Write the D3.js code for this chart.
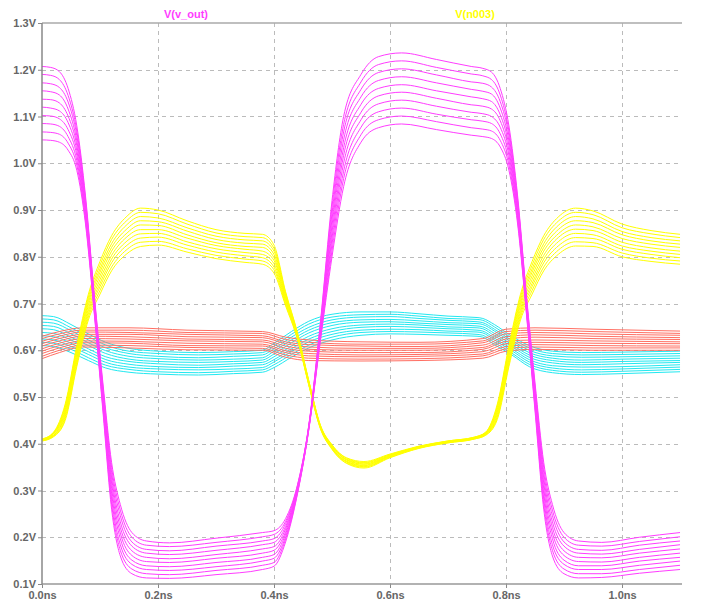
<!DOCTYPE html>
<html>
<head>
<meta charset="utf-8">
<title>V(v_out) / V(n003)</title>
<script src="https://cdn.jsdelivr.net/npm/d3@7/dist/d3.min.js"></script>
<style>
  body { margin: 0; background: #fff; }
  .tick text { font-family: "Liberation Sans", Arial, sans-serif; font-size: 11px; font-weight: bold; fill: #666; }
</style>
</head>
<body>
<svg id="chart" width="709" height="604"></svg>
<script>
// axis ticks
const xTicks = [0, 0.2, 0.4, 0.6, 0.8, 1.0]
const yTicks = [0.1, 0.2, 0.3, 0.4, 0.5, 0.6, 0.7, 0.8, 0.9, 1.0, 1.1, 1.2, 1.3]

// V(v_out) - magenta, 10 sweep runs per time sample
const tOut = [0, 0.015, 0.03, 0.045, 0.06, 0.075, 0.09, 0.105, 0.12, 0.135, 0.155, 0.18, 0.22, 0.30, 0.38, 0.40, 0.42, 0.44, 0.46, 0.48,
  0.50, 0.52, 0.55, 0.58, 0.62, 0.68, 0.74, 0.76, 0.775, 0.79, 0.805, 0.82, 0.835, 0.85, 0.865, 0.88, 0.90, 0.925, 0.965, 1.03, 1.10]
const vOut = [
  [1.207, 1.190, 1.172, 1.155, 1.137, 1.120, 1.102, 1.085, 1.067, 1.050],
  [1.205, 1.188, 1.170, 1.153, 1.136, 1.118, 1.101, 1.084, 1.066, 1.049],
  [1.196, 1.179, 1.162, 1.146, 1.129, 1.112, 1.095, 1.079, 1.062, 1.045],
  [1.160, 1.145, 1.131, 1.116, 1.101, 1.087, 1.072, 1.057, 1.043, 1.028],
  [1.080, 1.069, 1.059, 1.048, 1.038, 1.027, 1.017, 1.006, 0.996, 0.985],
  [0.930, 0.923, 0.917, 0.910, 0.903, 0.897, 0.890, 0.883, 0.877, 0.870],
  [0.720, 0.716, 0.711, 0.707, 0.702, 0.698, 0.693, 0.689, 0.684, 0.680],
  [0.530, 0.523, 0.517, 0.510, 0.503, 0.497, 0.490, 0.483, 0.477, 0.470],
  [0.360, 0.349, 0.338, 0.327, 0.316, 0.304, 0.293, 0.282, 0.271, 0.260],
  [0.270, 0.258, 0.246, 0.233, 0.221, 0.209, 0.197, 0.184, 0.172, 0.160],
  [0.210, 0.200, 0.190, 0.181, 0.171, 0.161, 0.151, 0.142, 0.132, 0.122],
  [0.192, 0.183, 0.174, 0.166, 0.157, 0.148, 0.139, 0.131, 0.122, 0.113],
  [0.188, 0.180, 0.171, 0.163, 0.154, 0.146, 0.137, 0.129, 0.120, 0.112],
  [0.198, 0.189, 0.181, 0.172, 0.163, 0.155, 0.146, 0.137, 0.129, 0.120],
  [0.210, 0.201, 0.192, 0.184, 0.175, 0.166, 0.157, 0.149, 0.140, 0.131],
  [0.214, 0.206, 0.197, 0.189, 0.180, 0.172, 0.163, 0.155, 0.146, 0.138],
  [0.240, 0.234, 0.229, 0.223, 0.218, 0.212, 0.207, 0.201, 0.196, 0.190],
  [0.310, 0.308, 0.306, 0.303, 0.301, 0.299, 0.297, 0.294, 0.292, 0.290],
  [0.440, 0.439, 0.438, 0.437, 0.436, 0.434, 0.433, 0.432, 0.431, 0.430],
  [0.660, 0.656, 0.651, 0.647, 0.642, 0.638, 0.633, 0.629, 0.624, 0.620],
  [0.920, 0.907, 0.893, 0.880, 0.867, 0.853, 0.840, 0.827, 0.813, 0.800],
  [1.100, 1.083, 1.067, 1.050, 1.033, 1.017, 1.000, 0.983, 0.967, 0.950],
  [1.190, 1.174, 1.158, 1.142, 1.126, 1.109, 1.093, 1.077, 1.061, 1.045],
  [1.228, 1.211, 1.194, 1.177, 1.160, 1.144, 1.127, 1.110, 1.093, 1.076],
  [1.236, 1.219, 1.202, 1.185, 1.168, 1.152, 1.135, 1.118, 1.101, 1.084],
  [1.222, 1.205, 1.189, 1.172, 1.155, 1.139, 1.122, 1.105, 1.089, 1.072],
  [1.207, 1.191, 1.174, 1.158, 1.142, 1.125, 1.109, 1.093, 1.076, 1.060],
  [1.203, 1.187, 1.171, 1.154, 1.138, 1.122, 1.106, 1.090, 1.073, 1.057],
  [1.195, 1.179, 1.163, 1.148, 1.132, 1.116, 1.100, 1.085, 1.069, 1.053],
  [1.160, 1.146, 1.132, 1.118, 1.104, 1.091, 1.077, 1.063, 1.049, 1.035],
  [1.080, 1.069, 1.059, 1.048, 1.038, 1.027, 1.017, 1.006, 0.996, 0.985],
  [0.930, 0.923, 0.917, 0.910, 0.903, 0.897, 0.890, 0.883, 0.877, 0.870],
  [0.720, 0.716, 0.711, 0.707, 0.702, 0.698, 0.693, 0.689, 0.684, 0.680],
  [0.530, 0.523, 0.517, 0.510, 0.503, 0.497, 0.490, 0.483, 0.477, 0.470],
  [0.360, 0.349, 0.338, 0.327, 0.316, 0.304, 0.293, 0.282, 0.271, 0.260],
  [0.270, 0.258, 0.246, 0.233, 0.221, 0.209, 0.197, 0.184, 0.172, 0.160],
  [0.210, 0.200, 0.190, 0.181, 0.171, 0.161, 0.151, 0.142, 0.132, 0.122],
  [0.192, 0.183, 0.174, 0.166, 0.157, 0.148, 0.139, 0.131, 0.122, 0.113],
  [0.189, 0.181, 0.172, 0.164, 0.156, 0.147, 0.139, 0.131, 0.122, 0.114],
  [0.200, 0.191, 0.183, 0.174, 0.166, 0.157, 0.149, 0.140, 0.131, 0.123],
  [0.210, 0.201, 0.192, 0.184, 0.175, 0.166, 0.157, 0.149, 0.140, 0.131]
]

// V(n003) - yellow
const tN3 = [0, 0.02, 0.04, 0.06, 0.08, 0.10, 0.12, 0.145, 0.17, 0.20, 0.25, 0.30, 0.35, 0.38, 0.40, 0.42, 0.44, 0.46, 0.48,
  0.50, 0.525, 0.555, 0.60, 0.65, 0.70, 0.745, 0.765, 0.785, 0.805, 0.825, 0.845, 0.865, 0.89, 0.92, 0.95, 1.00, 1.05, 1.10]
const vN3 = [
  [0.410, 0.410, 0.409, 0.409, 0.408, 0.408, 0.407, 0.407, 0.406, 0.406],
  [0.425, 0.424, 0.423, 0.422, 0.421, 0.419, 0.418, 0.417, 0.416, 0.415],
  [0.485, 0.481, 0.477, 0.473, 0.469, 0.466, 0.462, 0.458, 0.454, 0.450],
  [0.610, 0.605, 0.600, 0.595, 0.590, 0.585, 0.580, 0.575, 0.570, 0.565],
  [0.720, 0.714, 0.708, 0.702, 0.696, 0.689, 0.683, 0.677, 0.671, 0.665],
  [0.790, 0.782, 0.774, 0.767, 0.759, 0.751, 0.743, 0.736, 0.728, 0.720],
  [0.845, 0.837, 0.828, 0.820, 0.812, 0.803, 0.795, 0.787, 0.778, 0.770],
  [0.885, 0.876, 0.867, 0.858, 0.849, 0.841, 0.832, 0.823, 0.814, 0.805],
  [0.904, 0.895, 0.886, 0.877, 0.868, 0.858, 0.849, 0.840, 0.831, 0.822],
  [0.900, 0.892, 0.883, 0.875, 0.867, 0.858, 0.850, 0.842, 0.833, 0.825],
  [0.877, 0.870, 0.862, 0.855, 0.847, 0.840, 0.832, 0.825, 0.817, 0.810],
  [0.858, 0.851, 0.844, 0.837, 0.830, 0.824, 0.817, 0.810, 0.803, 0.796],
  [0.850, 0.843, 0.836, 0.829, 0.822, 0.816, 0.809, 0.802, 0.795, 0.788],
  [0.848, 0.841, 0.834, 0.827, 0.820, 0.812, 0.805, 0.798, 0.791, 0.784],
  [0.825, 0.818, 0.812, 0.805, 0.798, 0.792, 0.785, 0.778, 0.772, 0.765],
  [0.725, 0.722, 0.718, 0.715, 0.712, 0.708, 0.705, 0.702, 0.698, 0.695],
  [0.640, 0.638, 0.637, 0.635, 0.633, 0.632, 0.630, 0.628, 0.627, 0.625],
  [0.535, 0.534, 0.533, 0.532, 0.531, 0.529, 0.528, 0.527, 0.526, 0.525],
  [0.440, 0.439, 0.438, 0.437, 0.436, 0.436, 0.435, 0.434, 0.433, 0.432],
  [0.398, 0.397, 0.396, 0.395, 0.394, 0.392, 0.391, 0.390, 0.389, 0.388],
  [0.370, 0.369, 0.367, 0.366, 0.365, 0.363, 0.362, 0.361, 0.359, 0.358],
  [0.362, 0.360, 0.359, 0.357, 0.356, 0.354, 0.353, 0.351, 0.350, 0.348],
  [0.378, 0.377, 0.376, 0.375, 0.374, 0.374, 0.373, 0.372, 0.371, 0.370],
  [0.395, 0.394, 0.394, 0.393, 0.393, 0.392, 0.392, 0.391, 0.391, 0.390],
  [0.406, 0.406, 0.405, 0.405, 0.404, 0.404, 0.403, 0.403, 0.402, 0.402],
  [0.414, 0.414, 0.413, 0.413, 0.412, 0.412, 0.411, 0.411, 0.410, 0.410],
  [0.425, 0.424, 0.423, 0.423, 0.422, 0.421, 0.420, 0.420, 0.419, 0.418],
  [0.485, 0.481, 0.478, 0.474, 0.470, 0.467, 0.463, 0.459, 0.456, 0.452],
  [0.610, 0.605, 0.600, 0.595, 0.590, 0.585, 0.580, 0.575, 0.570, 0.565],
  [0.720, 0.714, 0.708, 0.702, 0.696, 0.689, 0.683, 0.677, 0.671, 0.665],
  [0.790, 0.782, 0.774, 0.767, 0.759, 0.751, 0.743, 0.736, 0.728, 0.720],
  [0.845, 0.837, 0.828, 0.820, 0.812, 0.803, 0.795, 0.787, 0.778, 0.770],
  [0.885, 0.876, 0.867, 0.858, 0.849, 0.841, 0.832, 0.823, 0.814, 0.805],
  [0.904, 0.895, 0.886, 0.877, 0.868, 0.859, 0.850, 0.841, 0.832, 0.823],
  [0.898, 0.890, 0.881, 0.873, 0.864, 0.856, 0.847, 0.839, 0.830, 0.822],
  [0.870, 0.862, 0.854, 0.847, 0.839, 0.831, 0.823, 0.816, 0.808, 0.800],
  [0.856, 0.849, 0.841, 0.834, 0.827, 0.819, 0.812, 0.805, 0.797, 0.790],
  [0.848, 0.841, 0.834, 0.827, 0.820, 0.812, 0.805, 0.798, 0.791, 0.784]
]

// cyan trace
const tCyan = [0, 0.02, 0.05, 0.08, 0.11, 0.15, 0.20, 0.27, 0.33, 0.38, 0.40, 0.43, 0.46, 0.50, 0.55, 0.60, 0.65, 0.70,
  0.75, 0.76, 0.78, 0.81, 0.84, 0.88, 0.93, 1.00, 1.10]
const vCyan = [
  [0.674, 0.667, 0.660, 0.653, 0.646, 0.638, 0.631, 0.624, 0.617, 0.610],
  [0.672, 0.665, 0.658, 0.651, 0.644, 0.636, 0.629, 0.622, 0.615, 0.608],
  [0.655, 0.648, 0.642, 0.635, 0.628, 0.622, 0.615, 0.608, 0.602, 0.595],
  [0.635, 0.629, 0.622, 0.616, 0.610, 0.603, 0.597, 0.591, 0.584, 0.578],
  [0.617, 0.611, 0.605, 0.599, 0.593, 0.586, 0.580, 0.574, 0.568, 0.562],
  [0.604, 0.598, 0.593, 0.587, 0.581, 0.576, 0.570, 0.564, 0.559, 0.553],
  [0.598, 0.593, 0.587, 0.582, 0.576, 0.571, 0.565, 0.560, 0.554, 0.549],
  [0.595, 0.590, 0.584, 0.579, 0.574, 0.568, 0.563, 0.558, 0.552, 0.547],
  [0.597, 0.592, 0.587, 0.581, 0.576, 0.571, 0.566, 0.560, 0.555, 0.550],
  [0.600, 0.595, 0.590, 0.584, 0.579, 0.574, 0.569, 0.563, 0.558, 0.553],
  [0.615, 0.609, 0.603, 0.598, 0.592, 0.586, 0.580, 0.575, 0.569, 0.563],
  [0.640, 0.634, 0.628, 0.622, 0.616, 0.609, 0.603, 0.597, 0.591, 0.585],
  [0.662, 0.656, 0.649, 0.643, 0.637, 0.630, 0.624, 0.618, 0.611, 0.605],
  [0.677, 0.671, 0.665, 0.659, 0.653, 0.646, 0.640, 0.634, 0.628, 0.622],
  [0.682, 0.676, 0.671, 0.665, 0.660, 0.654, 0.649, 0.643, 0.638, 0.632],
  [0.682, 0.677, 0.672, 0.666, 0.661, 0.656, 0.651, 0.645, 0.640, 0.635],
  [0.678, 0.673, 0.668, 0.663, 0.658, 0.654, 0.649, 0.644, 0.639, 0.634],
  [0.673, 0.668, 0.664, 0.659, 0.655, 0.650, 0.646, 0.641, 0.637, 0.632],
  [0.670, 0.666, 0.661, 0.657, 0.652, 0.648, 0.643, 0.639, 0.634, 0.630],
  [0.668, 0.664, 0.659, 0.655, 0.650, 0.646, 0.641, 0.637, 0.632, 0.628],
  [0.655, 0.650, 0.645, 0.641, 0.636, 0.631, 0.626, 0.622, 0.617, 0.612],
  [0.630, 0.626, 0.621, 0.617, 0.612, 0.608, 0.603, 0.599, 0.594, 0.590],
  [0.610, 0.605, 0.600, 0.595, 0.590, 0.585, 0.580, 0.575, 0.570, 0.565],
  [0.598, 0.593, 0.588, 0.583, 0.578, 0.573, 0.567, 0.562, 0.557, 0.552],
  [0.595, 0.590, 0.585, 0.579, 0.574, 0.569, 0.564, 0.558, 0.553, 0.548],
  [0.596, 0.591, 0.586, 0.581, 0.576, 0.571, 0.565, 0.560, 0.555, 0.550],
  [0.598, 0.593, 0.588, 0.583, 0.578, 0.574, 0.569, 0.564, 0.559, 0.554]
]

// red trace
const tRed = [0, 0.03, 0.07, 0.15, 0.25, 0.38, 0.42, 0.46, 0.55, 0.65, 0.76, 0.80, 0.85, 0.95, 1.10]
const vRed = [
  [0.630, 0.625, 0.619, 0.614, 0.609, 0.603, 0.598, 0.593, 0.587, 0.582],
  [0.640, 0.635, 0.630, 0.625, 0.620, 0.615, 0.610, 0.605, 0.600, 0.595],
  [0.648, 0.643, 0.639, 0.634, 0.630, 0.625, 0.620, 0.616, 0.611, 0.607],
  [0.648, 0.643, 0.638, 0.634, 0.629, 0.624, 0.619, 0.615, 0.610, 0.605],
  [0.643, 0.638, 0.634, 0.629, 0.624, 0.620, 0.615, 0.610, 0.606, 0.601],
  [0.640, 0.636, 0.631, 0.627, 0.622, 0.618, 0.613, 0.609, 0.604, 0.600],
  [0.628, 0.623, 0.618, 0.614, 0.609, 0.604, 0.599, 0.595, 0.590, 0.585],
  [0.622, 0.617, 0.612, 0.607, 0.602, 0.598, 0.593, 0.588, 0.583, 0.578],
  [0.618, 0.613, 0.609, 0.604, 0.600, 0.595, 0.590, 0.586, 0.581, 0.577],
  [0.617, 0.613, 0.608, 0.604, 0.600, 0.595, 0.591, 0.587, 0.582, 0.578],
  [0.625, 0.620, 0.616, 0.611, 0.606, 0.602, 0.597, 0.592, 0.588, 0.583],
  [0.645, 0.640, 0.635, 0.629, 0.624, 0.619, 0.614, 0.608, 0.603, 0.598],
  [0.648, 0.643, 0.638, 0.633, 0.628, 0.622, 0.617, 0.612, 0.607, 0.602],
  [0.645, 0.640, 0.635, 0.630, 0.625, 0.620, 0.615, 0.610, 0.605, 0.600],
  [0.641, 0.636, 0.632, 0.627, 0.623, 0.618, 0.614, 0.609, 0.605, 0.600]
]

var margin = {top: 23, right: 27, bottom: 20, left: 42}
var svg = d3.select('#chart')
var W = +svg.attr('width') - margin.left - margin.right
var H = +svg.attr('height') - margin.top - margin.bottom

var x = d3.scaleLinear().domain([0, 1.1034]).range([margin.left, margin.left + W])
var y = d3.scaleLinear().domain([0.1, 1.3]).range([margin.top + H, margin.top])

// dashed grid
var grid = svg.append('g').attr('class', 'grid')
grid.selectAll('.vg').data(xTicks.slice(1))
  .enter().append('line')
  .attr('x1', d => Math.round(x(d)) + 0.5).attr('x2', d => Math.round(x(d)) + 0.5)
  .attr('y1', y(1.3)).attr('y2', y(0.1))
  .attr('stroke', '#bbb').attr('stroke-dasharray', '4,4')
grid.selectAll('.hg').data(yTicks.slice(1, -1))
  .enter().append('line')
  .attr('x1', x(0)).attr('x2', margin.left + W)
  .attr('y1', d => Math.round(y(d)) + 0.5).attr('y2', d => Math.round(y(d)) + 0.5)
  .attr('stroke', '#bbb').attr('stroke-dasharray', '4,4')

// traces
var line = d3.line().x(d => x(d[0])).y(d => y(d[1])).curve(d3.curveMonotoneX)
function drawTrace(times, vals, color) {
  var g = svg.append('g')
  for (var k = 0; k < 10; k++) {
    var pts = times.map((t, i) => [t, vals[i][k]])
    g.append('path').attr('d', line(pts))
      .attr('fill', 'none').attr('stroke', color).attr('stroke-width', 1)
  }
}
drawTrace(tCyan, vCyan, '#22e8f0')
drawTrace(tRed, vRed, '#ff6e62')
drawTrace(tN3, vN3, '#ffff00')
drawTrace(tOut, vOut, '#ff3cff')

// axes
var yAxis = d3.axisLeft(y).tickValues(yTicks).tickSize(4).tickPadding(2)
  .tickFormat(d => d.toFixed(1) + 'V')
var gy = svg.append('g').attr('transform', 'translate(' + margin.left + ',0)').call(yAxis)
gy.select('.domain').remove()
gy.selectAll('.tick line').attr('stroke', '#888')

var xAxis = d3.axisBottom(x).tickValues(xTicks).tickSize(4).tickPadding(3)
  .tickFormat(d => d.toFixed(1) + 'ns')
var gx = svg.append('g').attr('transform', 'translate(0,' + (margin.top + H) + ')').call(xAxis)
gx.select('.domain').remove()
gx.selectAll('.tick line').attr('stroke', '#888')

// frame lines (top, left, bottom)
svg.append('line').attr('x1', margin.left).attr('x2', margin.left + W)
  .attr('y1', margin.top).attr('y2', margin.top).attr('stroke', '#aaa').attr('stroke-width', 1.5)
svg.append('line').attr('x1', margin.left).attr('x2', margin.left + W)
  .attr('y1', margin.top + H).attr('y2', margin.top + H).attr('stroke', '#999').attr('stroke-width', 1.5)
svg.append('line').attr('x1', margin.left).attr('x2', margin.left)
  .attr('y1', margin.top).attr('y2', margin.top + H).attr('stroke', '#888').attr('stroke-width', 1.5)

// trace labels
svg.append('text').attr('x', 186).attr('y', 18).attr('text-anchor', 'middle')
  .style('font', 'bold 11px "Liberation Sans", Arial, sans-serif').attr('fill', '#ff3cff').text('V(v_out)')
svg.append('text').attr('x', 475).attr('y', 18).attr('text-anchor', 'middle')
  .style('font', 'bold 11px "Liberation Sans", Arial, sans-serif').attr('fill', '#ffff00').text('V(n003)')
</script>
</body>
</html>
